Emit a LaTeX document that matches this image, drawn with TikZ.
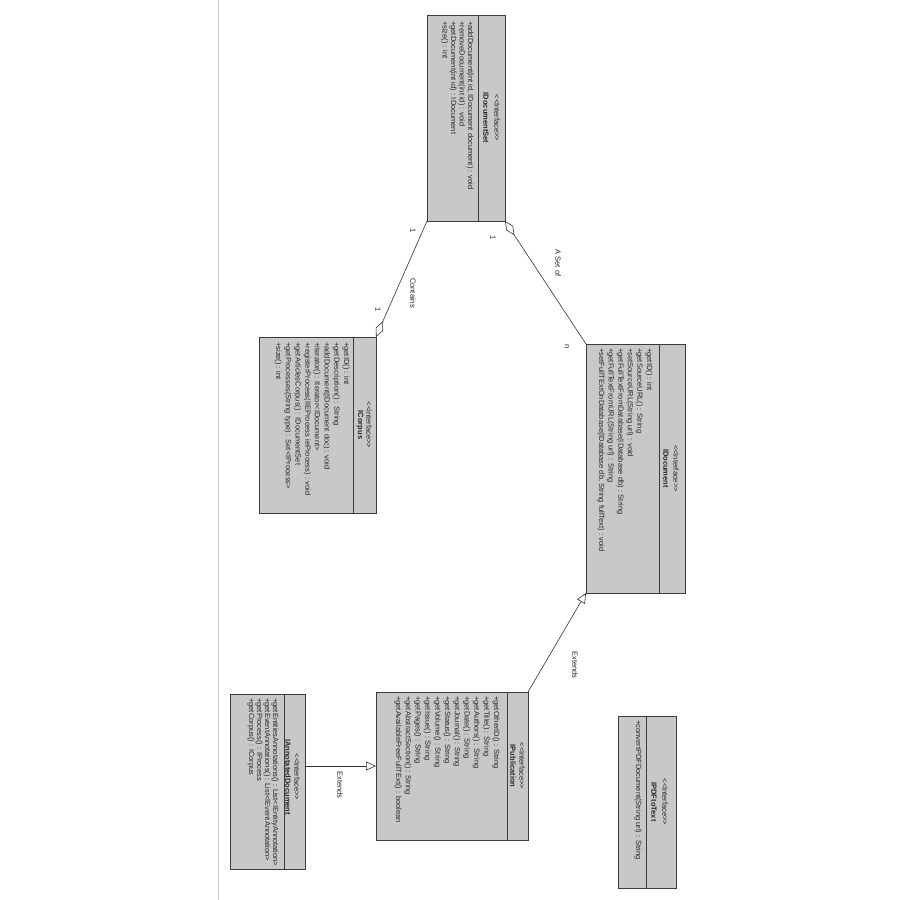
\documentclass[tikz,border=0pt]{standalone}
\usepackage{fontspec}
\setmainfont{Liberation Sans}
\usetikzlibrary{arrows.meta,calc}
\definecolor{boxfill}{RGB}{200,200,200}
\definecolor{boxline}{RGB}{60,60,60}
\begin{document}
\begin{tikzpicture}[x={(1pt,0)}, y={(0,-1pt)},
  font=\fontsize{7.5}{8}\selectfont,
  umlbox/.style={draw=boxline, fill=boxfill, line width=0.7pt, inner sep=0, outer sep=0},
  divider/.style={draw=boxline, line width=0.7pt},
  txt/.style={rotate=-90, inner sep=0, anchor=west, text=black!85},
  hdr/.style={rotate=-90, inner sep=0, anchor=center, text=black!85},
  hdrb/.style={hdr, font=\fontsize{7.5}{8}\selectfont\bfseries},
  conn/.style={draw=black!80, line width=0.6pt},
  lbl/.style={rotate=-90, inner sep=0, text=black!85},
  aggl/.style={{Diamond[open, fill=white, length=17pt, width=8pt]}-},
  genr/.style={-{Triangle[open, fill=white, length=10pt, width=9pt]}}]
\useasboundingbox (0,0) rectangle (900,900);
\fill[white] (0,0) rectangle (900,900);
\draw[black!20, line width=0.8pt] (218,0) -- (218,900);

% boxes
\node[umlbox, minimum width=78pt, minimum height=206pt] (ds) at (466,118) {};
\node[umlbox, minimum width=117pt, minimum height=176pt] (cs) at (317.5,425) {};
\node[umlbox, minimum width=99pt, minimum height=249pt] (doc) at (635.5,468.5) {};
\node[umlbox, minimum width=152pt, minimum height=148pt] (pub) at (452,766) {};
\node[umlbox, minimum width=75pt, minimum height=175pt] (ann) at (267.5,781.5) {};
\node[umlbox, minimum width=58pt, minimum height=172pt] (pdf) at (647,802) {};

% dividers
\draw[divider] ([xshift=-27pt]ds.north east) -- ([xshift=-27pt]ds.south east);
\draw[divider] ([xshift=-23pt]cs.north east) -- ([xshift=-23pt]cs.south east);
\draw[divider] ([xshift=-26pt]doc.north east) -- ([xshift=-26pt]doc.south east);
\draw[divider] ([xshift=-21pt]pub.north east) -- ([xshift=-21pt]pub.south east);
\draw[divider] ([xshift=-21pt]ann.north east) -- ([xshift=-21pt]ann.south east);
\draw[divider] ([xshift=-30pt]pdf.north east) -- ([xshift=-30pt]pdf.south east);

% headers
\node[hdr] (ds-st) at (497,118) {<{}<Interface>{}>};
\node[hdrb] (ds-nm) at (486,118) {IDocumentSet};
\node[hdr] (cs-st) at (369,425) {<{}<interface>{}>};
\node[hdrb] (cs-nm) at (360,425) {ICorpus};
\node[hdr] (doc-st) at (676,468.5) {<{}<Interface>{}>};
\node[hdrb] (doc-nm) at (666,468.5) {IDocument};
\node[hdr] (pub-st) at (522,766) {<{}<Interface>{}>};
\node[hdrb] (pub-nm) at (513,766) {IPublication};
\node[hdr] (ann-st) at (297,777) {<{}<Interface>{}>};
\node[hdrb] (ann-nm) at (288,777) {IAnnotatedDocument};
\node[hdr] (pdf-st) at (665,802) {<{}<Interface>{}>};
\node[hdrb] (pdf-nm) at (654,802) {IPDFtoText};

% methods
\foreach \t [count=\i from 0] in {{+addDocument(int id, IDocument document) : void},{+removeDocument(int id) : void},{+getDocument(int id) : IDocument},{+size() : int}}
  \node[txt] (ds-m\i) at ({470-8.5*\i},21) {\t};
\foreach \t [count=\i from 0] in {{+getID() : int},{+getDescription() : String},{+addDocument(IDocument doc) : void},{+iterator() : Iterator<IDocument>},{+registerProcess(IIEProcess ieProcess) : void},{+getArticlesCorpus() : IDocumentSet},{+getProcesses(String type) : Set<IProcess>},{+size() : int}}
  \node[txt] (cs-m\i) at ({346-9.7*\i},342) {\t};
\foreach \t [count=\i from 0] in {{+getID() : int},{+getSourceURL() : String},{+setSourceURL(String url) : void},{+getFullTextFromDatabase(IDatabase db) : String},{+getFullTextFromURL(String url) : String},{+setFullTExtOnDatabase(IDatabase db, String fullText) : void}}
  \node[txt] (doc-m\i) at ({649-9.6*\i},348) {\t};
\foreach \t [count=\i from 0] in {{+getOtherID() : String},{+getTitle() : String},{+getAuthors() : String},{+getDate() : String},{+getJournal() : String},{+getStatus() : String},{+getVolume() : String},{+getIssue() : String},{+getPages() : String},{+getAbstractSection() : String},{+getAvailableFreeFullTExt() : boolean}}
  \node[txt] (pub-m\i) at ({496-9.8*\i},696) {\t};
\foreach \t [count=\i from 0] in {{+getEntitiesAnnotations() : List<IEntityAnnotation>},{+getEventAnnotations() : List<IEventAnnotation>},{+getProcess() : IProcess},{+getCorpus() : ICorpus}}
  \node[txt] (ann-m\i) at ({275-8*\i},698) {\t};
\node[txt] (pdf-m0) at (638,720) {+convertPDFDocument(String url) : String};

% connectors
\draw[conn, aggl] (cs.north east) -- (ds.south west);
\draw[conn, aggl] (ds.south east) -- (doc.north west);
\draw[conn, genr] (pub.north east) -- (doc.south west);
\draw[conn, genr] (ann.east |- pub.west) -- (pub.west);

% labels
\node[lbl] (c1a) at (413,231) {1};
\node[lbl] (c1b) at (378,310) {1};
\node[lbl] (cl) at (413,293) {Contains};
\node[lbl] (s1) at (493,238) {1};
\node[lbl] (sl) at (558,263) {A Set of};
\node[lbl] (sn) at (567,347) {n};
\node[lbl] (e1) at (575,665) {Extends};
\node[lbl] (e2) at (340,785) {Extends};
\end{tikzpicture}
\end{document}
